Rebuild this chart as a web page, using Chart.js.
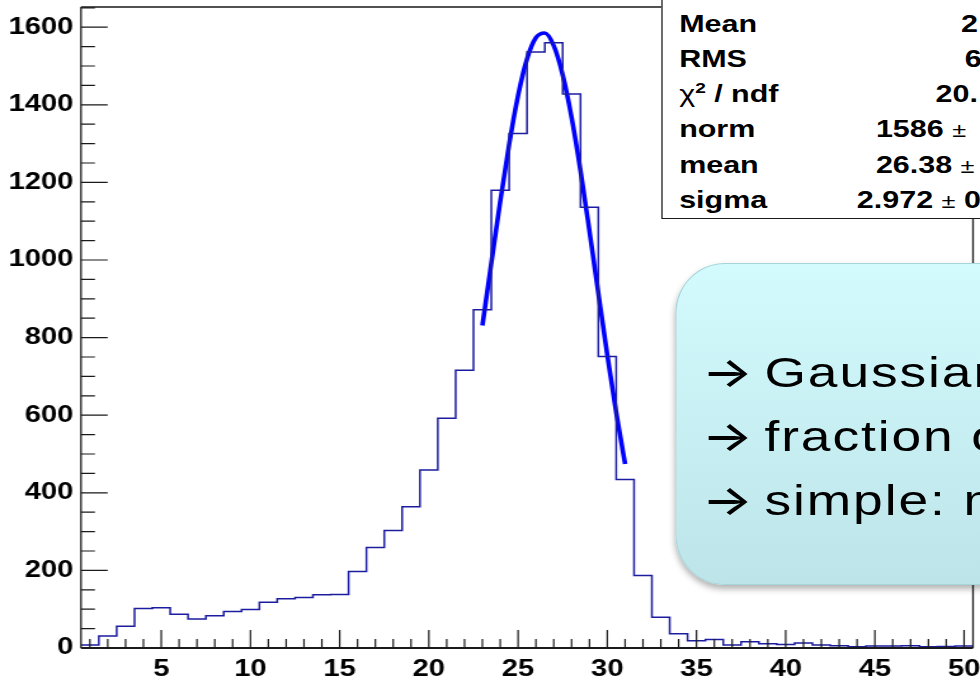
<!DOCTYPE html>
<html>
<head>
<meta charset="UTF-8">
<title>Histogram with Gaussian fit</title>
<script src="https://cdn.jsdelivr.net/npm/chart.js"></script>
<style>
  body { margin: 0; width: 980px; height: 679px; overflow: hidden; background: #fff;
         font-family: "Liberation Sans", Arial, Helvetica, sans-serif; }
  /* the source picture is stretched sideways, so the whole stage is too */
  #stage { position: absolute; left: 0; top: 0; width: 772px; height: 679px;
           transform: scaleX(1.2694); transform-origin: 0 0; }
  #plot { position: absolute; left: 0; top: 0; }
  .stats { position: absolute; left: 520.5px; top: -2px; width: 300px; height: 221px;
           box-sizing: border-box; border: 1.5px solid #1a1a1a; background: #fff; }
  .srow { position: absolute; font-size: 24px; font-weight: bold; line-height: 35px;
          height: 35px; white-space: nowrap; color: #000; }
  .srow sup { font-size: 15px; line-height: 0; vertical-align: 9px; }
  .pm { font-weight: normal; font-size: 20px; }
  .callout { position: absolute; left: 532px; top: 263px; width: 400px; height: 322px;
             box-sizing: border-box; border: 1px solid #a6d6da; border-radius: 39px / 50px;
             background: linear-gradient(#d3fbfe, #bde5e9);
             box-shadow: 0 4px 6px rgba(0,0,0,0.3); }
  .cline { position: absolute; left: 553px; font-size: 42px; line-height: 64px; height: 64px;
           letter-spacing: 1.5px; white-space: nowrap; color: #000; }
  .arr { font-family: Inter, "DejaVu Sans", sans-serif; font-weight: 500; letter-spacing: 0;
         margin-right: -4px; }
</style>
</head>
<body>
<div id="stage">
  <canvas id="plot" width="772" height="679"></canvas>
  <div class="stats"></div>
  <div class="srow" style="left:535px; top:6px">Mean</div>
  <div class="srow" style="left:757px; top:6px">2</div>
  <div class="srow" style="left:535px; top:41px">RMS</div>
  <div class="srow" style="left:760px; top:41px">6</div>
  <div class="srow" style="left:535px; top:76px"><span style="font-weight:normal">&chi;</span><sup>2</sup> / ndf</div>
  <div class="srow" style="left:737px; top:76px">20.</div>
  <div class="srow" style="left:535px; top:111px">norm</div>
  <div class="srow" style="left:690px; top:111px">1586 <span class="pm">&plusmn;</span></div>
  <div class="srow" style="left:535px; top:147px">mean</div>
  <div class="srow" style="left:690px; top:147px">26.38 <span class="pm">&plusmn;</span></div>
  <div class="srow" style="left:535px; top:182px">sigma</div>
  <div class="srow" style="left:675px; top:182px">2.972 <span class="pm">&plusmn;</span> 0</div>
  <div class="callout"></div>
  <div class="cline" style="top:340px"><span class="arr">&rarr;</span> Gaussian</div>
  <div class="cline" style="top:404px"><span class="arr">&rarr;</span> fraction o</div>
  <div class="cline" style="top:468px"><span class="arr">&rarr;</span> simple: m</div>
</div>
<script>
  // bin centres (width 1) and bin contents
  const binCenters = [1, 2, 3, 4, 5, 6, 7, 8, 9, 10, 11, 12, 13, 14, 15, 16, 17, 18, 19, 20,
    21, 22, 23, 24, 25, 26, 27, 28, 29, 30, 31, 32, 33, 34, 35, 36, 37, 38, 39, 40,
    41, 42, 43, 44, 45, 46, 47, 48, 49, 50];
  const counts = [8, 31, 56, 102, 104, 87, 75, 83, 94, 99, 118, 127, 130, 137, 138, 197, 259, 303, 364, 459,
    592, 716, 872, 1180, 1326, 1536, 1560, 1428, 1136, 751, 434, 187, 79, 37, 19, 22, 8, 16, 11, 9,
    13, 8, 6, 3, 5, 5, 6, 3, 4, 5];

  // points
  const fitX = [23, 23.5, 24, 24.5, 25, 25.5, 26, 26.5, 27, 27.5, 28, 28.5, 29, 29.5, 30, 30.5, 31];
  const fitY = [831, 992, 1151, 1298, 1424, 1518, 1573, 1585, 1552, 1477, 1367, 1230, 1075, 914, 755, 607, 474];

  const xLabels = [5, 10, 15, 20, 25, 30, 35, 40, 45, 50];
  const yLabels = [0, 200, 400, 600, 800, 1000, 1200, 1400, 1600];

  const histPoints = counts.map((c, i) => ({ x: binCenters[i] - 0.5, y: c }));
  histPoints.push({ x: binCenters[binCenters.length - 1] + 0.5, y: counts[counts.length - 1] });
  const fitPoints = fitX.map((x, i) => ({ x: x, y: fitY[i] }));

  const tickFont = { family: '"Liberation Sans", Arial, Helvetica, sans-serif', size: 23, weight: 'bold' };

  // ROOT style frame with ticks drawn inside
  const rootFrame = {
    id: 'rootFrame',
    afterDatasetsDraw(chart) {
      const { ctx, chartArea: a, scales: { x, y } } = chart;
      ctx.save();
      ctx.strokeStyle = '#1a1a1a';
      ctx.lineWidth = 1.3;
      ctx.beginPath();
      ctx.moveTo(a.left, a.top); ctx.lineTo(a.right, a.top);
      ctx.moveTo(a.right, a.top); ctx.lineTo(a.right, a.bottom);
      ctx.moveTo(a.left, a.top); ctx.lineTo(a.left, a.bottom);
      ctx.stroke();
      ctx.lineWidth = 1.8;
      ctx.beginPath();
      ctx.moveTo(a.left, a.bottom); ctx.lineTo(a.right, a.bottom);
      ctx.stroke();
      ctx.lineWidth = 1.2;
      ctx.beginPath();
      for (let v = 1; v <= 50; v++) {
        const px = x.getPixelForValue(v);
        const len = v % 5 === 0 ? 18 : 9;
        ctx.moveTo(px, a.bottom); ctx.lineTo(px, a.bottom - len);
      }
      for (let v = 0; v <= 1650; v += 50) {
        const py = y.getPixelForValue(v);
        if (py < a.top) continue;
        const len = v % 200 === 0 ? 21 : 11;
        ctx.moveTo(a.left, py); ctx.lineTo(a.left + len, py);
      }
      ctx.stroke();
      ctx.restore();
    }
  };

  new Chart(document.getElementById('plot').getContext('2d'), {
    type: 'line',
    data: {
      datasets: [
        {
          data: histPoints,
          stepped: 'before',
          borderColor: '#1c1ca0',
          borderWidth: 1.5,
          pointRadius: 0,
          fill: false
        },
        {
          data: fitPoints,
          borderColor: '#0000ff',
          borderWidth: 3.6,
          pointRadius: 0,
          cubicInterpolationMode: 'monotone',
          borderCapStyle: 'butt',
          fill: false
        }
      ]
    },
    options: {
      responsive: false,
      animation: false,
      events: [],
      layout: { padding: { top: 7, right: 5.5, left: 0, bottom: 0 } },
      plugins: { legend: { display: false }, tooltip: { enabled: false } },
      scales: {
        x: {
          type: 'linear', min: 0.5, max: 50.5,
          grid: { display: false, drawTicks: false }, border: { display: false },
          afterBuildTicks: s => { s.ticks = xLabels.map(v => ({ value: v })); },
          afterFit: s => { s.height = 31; s.paddingLeft = 0; s.paddingRight = 0; },
          ticks: { padding: 8, color: '#000', font: tickFont, maxRotation: 0, autoSkip: false,
                   callback: v => String(v) }
        },
        y: {
          type: 'linear', min: 0, max: 1652,
          grid: { display: false, drawTicks: false }, border: { display: false },
          afterBuildTicks: s => { s.ticks = yLabels.map(v => ({ value: v })); },
          afterFit: s => { s.width = 63.8; s.paddingTop = 0; s.paddingBottom = 0; },
          ticks: { padding: 6, color: '#000', font: tickFont, autoSkip: false,
                   callback: v => String(v) }
        }
      }
    },
    plugins: [rootFrame]
  });
</script>
</body>
</html>
